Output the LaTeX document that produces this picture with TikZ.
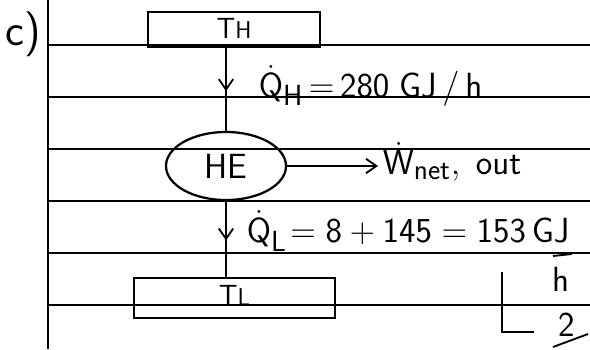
\documentclass[tikz,border=0pt]{standalone}
\usepackage{amsmath}
\usetikzlibrary{arrows.meta, decorations.markings, shapes.geometric}

\tikzset{
    rule/.style={line width=0.8pt},
    resbox/.style={draw, line width=1.6pt, inner sep=0pt},
    engine/.style={draw, ellipse, line width=1.6pt, minimum width=3cm, minimum height=1.7cm, inner sep=0pt},
    flow/.style={line width=1.3pt, decoration={markings, mark=at position 0.52 with {\arrow{Straight Barb[length=2.6mm, width=3.6mm, line width=1.3pt]}}}, postaction=decorate},
}

\begin{document}
\begin{tikzpicture}[x=0.025cm, y=-0.025cm, font=\sffamily\huge]
    \useasboundingbox (0,0) rectangle (590,349);
    % ruled paper
    \foreach \y in {45,97,149,201,253,305}
        \draw[rule] (48,\y) -- (590,\y);
    \draw[rule] (48,0) -- (48,349);
    \node[font=\sffamily\fontsize{32}{32}\selectfont] (part) at (23,34) {c)};
    % reservoirs and engine
    \node[resbox, minimum width=4.3cm, minimum height=0.875cm] (hot) at (234,29.5) {\raisebox{2pt}{T{\LARGE H}}};
    \node[engine, font=\sffamily\Huge] (he) at (226,166) {HE};
    \node[resbox, minimum width=5.025cm, minimum height=1cm] (cold) at (234.5,298) {\raisebox{4pt}{T{\LARGE L}}};
    % heat and work
    \draw[flow] (he.north |- hot.south) -- (he.north);
    \draw[flow] (he.south) -- (he.south |- cold.north);
    \node[anchor=west, font=\sffamily\Huge] (qh) at (254,86) {$\dot{\mathsf{Q}}_{\mathsf{H}}\,{=}\,\mathsf{280\;GJ\,/\,h}$};
    \node[anchor=west, font=\sffamily\Huge] (wout) at (378,162) {$\dot{\mathsf{W}}_{\mathsf{net}}\mathsf{,\;out}$};
    \draw[line width=1.3pt, -{Straight Barb[length=2.6mm, width=3.6mm]}] (he.east) -- (he.east -| wout.west);
    \node[anchor=west, font=\sffamily\Huge] (ql) at (242,231) {$\dot{\mathsf{Q}}_{\mathsf{L}}\!=\mathsf{8+145=153\,GJ}$};
    \node[font=\sffamily\Huge] (hr) at (561,279) {h};
    \draw[line width=1.3pt] (553,256) -- (572,254);
    % mark
    \draw[line width=1.3pt] (502,272) -- (502,332) -- (534,332);
    \node[font=\sffamily\Huge] (score) at (567,325) {2};
    \draw[line width=1.3pt] (553,347) -- (588,334);
\end{tikzpicture}
\end{document}
